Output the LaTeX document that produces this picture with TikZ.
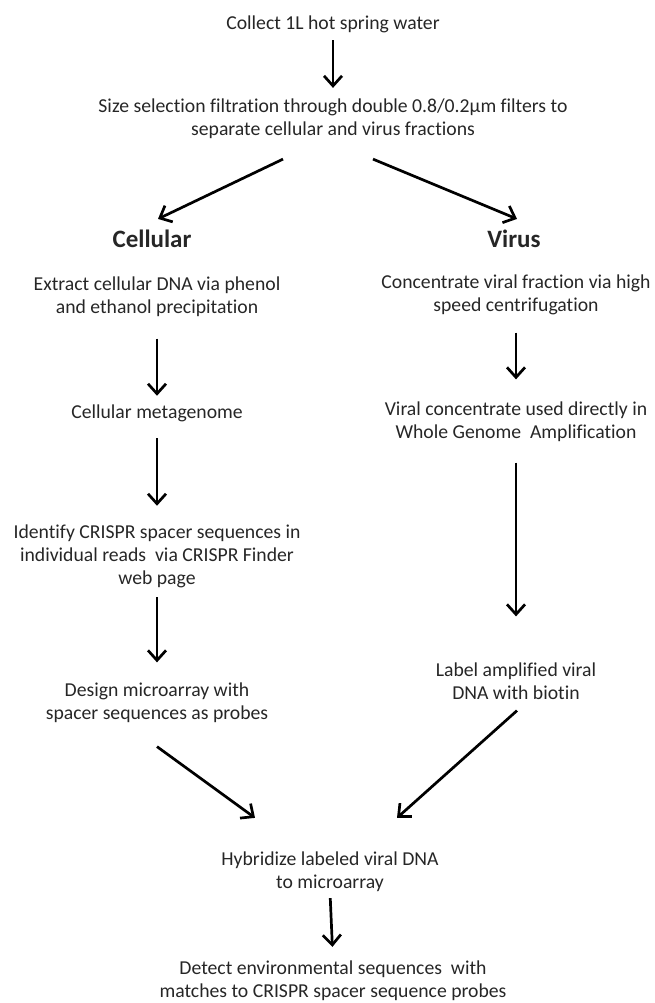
\documentclass[tikz,border=0pt]{standalone}
\usepackage{fontspec}
\setmainfont{Carlito}[Ligatures=NoCommon]
\usetikzlibrary{arrows.meta}
\tikzset{
  stage/.style={align=center, inner sep=0pt, text=black!85, font=\fontsize{19.7}{23}\selectfont},
  branch/.style={inner sep=0pt, text=black!85, font=\fontsize{25}{30}\selectfont\bfseries},
  flow/.style={line width=2.7pt, -{Straight Barb[length=10pt,width=18pt]}},
}
\begin{document}
\begin{tikzpicture}[x=1pt,y=-1pt]
  \useasboundingbox (0,0) rectangle (655,1003);
  % top of the chart
  \node[stage] (collect) at (333,24.5) {Collect 1L hot spring water};
  \node[stage] (filter) at (333,119) {Size selection filtration through double 0.8/0.2µm filters to\\separate cellular and virus fractions};
  \node[branch] (cellhead) at (152,239) {Cellular};
  \node[branch] (virushead) at (514,239) {Virus};
  % cellular side
  \node[stage] (extract) at (157,296.5) {Extract cellular DNA via phenol\\and ethanol precipitation};
  \node[stage] (meta) at (157,413.5) {Cellular metagenome};
  \node[stage] (identify) at (157,556.5) {Identify CRISPR spacer sequences in\\individual reads\ \ via CRISPR Finder\\web page};
  \node[stage] (design) at (157,702.5) {Design microarray with\\spacer sequences as probes};
  % virus side
  \node[stage] (conc) at (516,294.5) {Concentrate viral fraction via high\\speed centrifugation};
  \node[stage] (viral) at (516,421.5) {Viral concentrate used directly in\\Whole Genome\ \ Amplification};
  \node[stage] (label) at (516,681) {Label amplified viral\\DNA with biotin};
  % bottom
  \node[stage] (hyb) at (330,872) {Hybridize labeled viral DNA\\to microarray};
  \node[stage] (detect) at (333,981) {Detect environmental sequences\ \ with\\matches to CRISPR spacer sequence probes};

  \draw[flow, shorten <=7pt, shorten >=11pt] (collect.south) -- (filter.north);
  \draw[flow] ([xshift=-50pt,yshift=-20pt]filter.south) -- ([xshift=6pt,yshift=11pt]cellhead.north);
  \draw[flow] ([xshift=40pt,yshift=-20pt]filter.south) -- ([xshift=3pt,yshift=11pt]virushead.north);
  \draw[flow, shorten <=22pt, shorten >=9pt] (extract.south) -- (meta.north);
  \draw[flow, shorten <=16pt, shorten >=19pt] (meta.south) -- (identify.north);
  \draw[flow, shorten <=9pt, shorten >=20pt] (identify.south) -- (design.north);
  \draw[flow, shorten <=18pt, shorten >=22pt] (conc.south) -- (viral.north);
  \draw[flow, shorten <=21pt, shorten >=46pt] (viral.south) -- (label.north);
  \draw[flow] ([yshift=-24pt]design.south) -- ([xshift=-75pt,yshift=34pt]hyb.north);
  \draw[flow] ([xshift=1pt,yshift=-11pt]label.south) -- ([xshift=67pt,yshift=34pt]hyb.north);
  \draw[flow, shorten <=6pt, shorten >=14pt] (hyb.south) -- (detect.north);
\end{tikzpicture}
\end{document}
